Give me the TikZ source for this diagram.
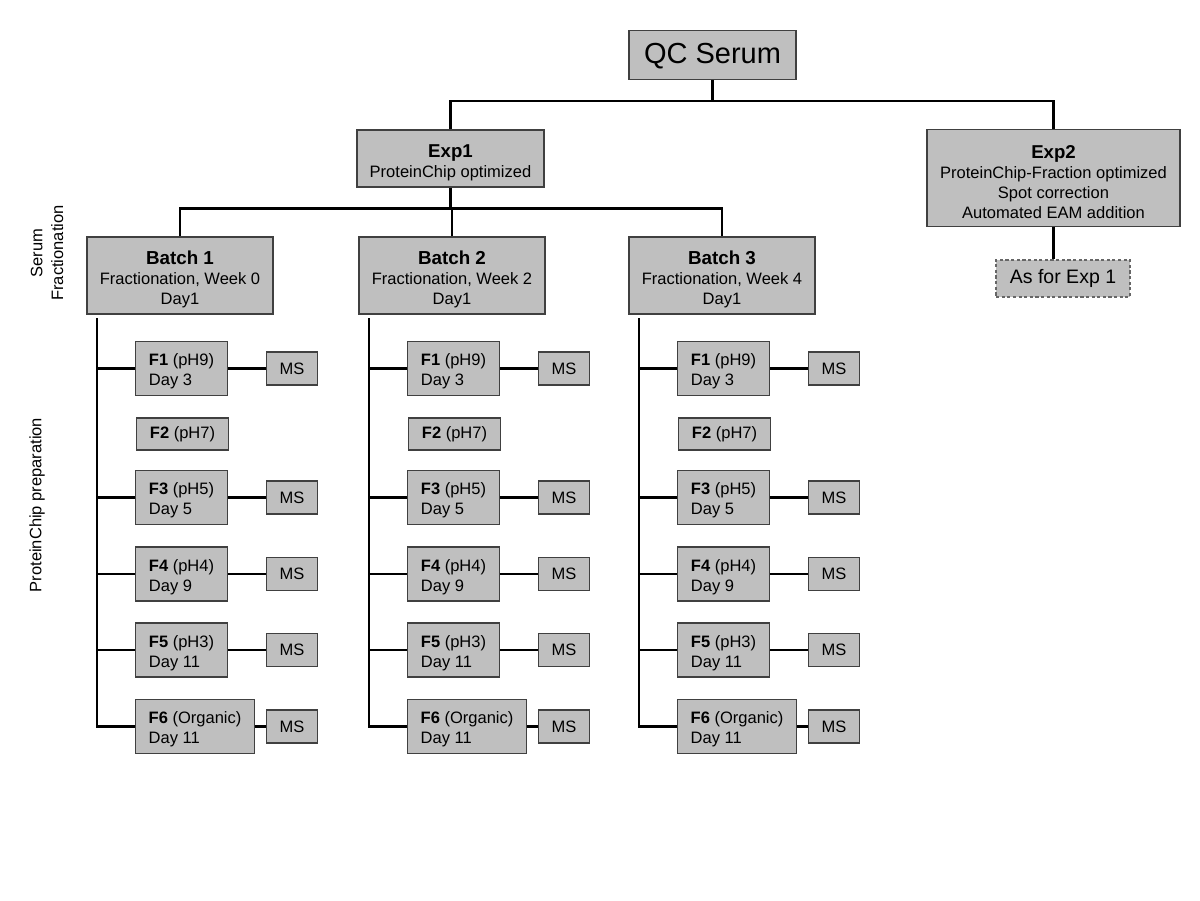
\documentclass[tikz,border=0pt]{standalone}
\usepackage{fontspec}
\setmainfont{Liberation Sans}
\usetikzlibrary{positioning}

\newcommand{\pxl}{0.02cm}
\newcommand{\headstrut}{\rule{0pt}{12pt}}
\newcommand{\fracstrut}{\rule{0pt}{10.3pt}}

\begin{document}
\begin{tikzpicture}[
    x=0.02cm, y=-0.02cm,
    box/.style={draw=black!75, line width=0.6pt, fill=black!25, inner sep=0pt, align=center, font=\fontsize{9.4}{11.3}\selectfont},
    batch/.style={box, minimum width=186*\pxl, minimum height=77*\pxl},
    frac/.style={box, align=left, anchor=west, minimum width=92*\pxl, minimum height=54*\pxl},
    msbox/.style={box, anchor=west, minimum width=51*\pxl, minimum height=33*\pxl},
    edge/.style={line width=1.2pt},
    sidelabel/.style={rotate=90, align=center, font=\fontsize{9.4}{11.8}\selectfont}
]
\useasboundingbox (0,0) rectangle (1200,900);

% Nodes
\node[box, minimum width=167*\pxl, minimum height=49*\pxl, font=\fontsize{16.5}{20}\selectfont] (qc) at (712.5,55) {\rule{0pt}{13pt}QC Serum};
\node[box, minimum width=187*\pxl, minimum height=57*\pxl] (exp1) at (450.5,158.5) {{\fontsize{10.6}{12}\selectfont\bfseries\headstrut Exp1}\\ProteinChip optimized};
\node[box, minimum width=253*\pxl, minimum height=97*\pxl] (exp2) at (1053.5,178) {{\fontsize{10.6}{12}\selectfont\bfseries\headstrut Exp2}\\ProteinChip-Fraction optimized\\Spot correction\\Automated EAM addition};
\node[box, draw=black!60, dash pattern=on 1.8pt off 1.4pt, minimum width=134*\pxl, minimum height=37*\pxl, font=\fontsize{11.1}{13}\selectfont] (asexp) at (1063,278.5) {As for Exp 1};

\node[sidelabel] (serlab) at (47,253) {Serum\\Fractionation};
\node[sidelabel] (pclab) at (37,505) {ProteinChip preparation};

% Edges between nodes
\draw[edge] (qc.south) -- ++(0,21) coordinate (qcj);
\draw[edge] (exp1.north) |- (qcj) -| (exp2.north);
\draw[edge] (exp2.south) -- (exp2.south |- asexp.north);
\draw[edge] (exp1.south) -- ++(0,21) coordinate (ej);

% Batches with their ProteinChip fractions
\foreach \b/\dx/\wk in {1/0/0, 2/272/2, 3/542/4} {
  \node[batch] (b\b) at (180+\dx,275.5) {{\fontsize{10.7}{12}\selectfont\bfseries\headstrut Batch \b}\\Fractionation, Week \wk\\Day1};
  \coordinate (sp\b) at (97+\dx,318);

  \foreach \f/\ph/\dy/\yy in {1/pH9/3/368.5, 3/pH5/5/497.5, 4/pH4/9/574, 5/pH3/11/650} {
    \node[frac] (f\b-\f) at (135+\dx,\yy) {\fracstrut\textbf{F\f} (\ph)\\Day \dy};
    \node[msbox] (ms\b-\f) at (266+\dx,\yy) {MS};
    \draw[edge] (f\b-\f.east) -- (ms\b-\f.west);
    \draw[edge] (f\b-\f.west -| sp\b) -- (f\b-\f.west);
  }
  \node[frac, minimum height=32*\pxl] (f\b-2) at (136+\dx,434) {\textbf{F2} (pH7)};
  \node[frac, minimum width=119*\pxl] (f\b-6) at (135+\dx,726.5) {\fracstrut\textbf{F6} (Organic)\\Day 11};
  \node[msbox] (ms\b-6) at (266+\dx,726.5) {MS};
  \draw[edge] (f\b-6.east) -- (ms\b-6.west);
  \draw[edge] (sp\b) |- (f\b-6.west);
}

\draw[edge] (b1.north) |- (ej) -| (b3.north);
\draw[edge] (b2.north) -- (b2.north |- ej);

\end{tikzpicture}
\end{document}
